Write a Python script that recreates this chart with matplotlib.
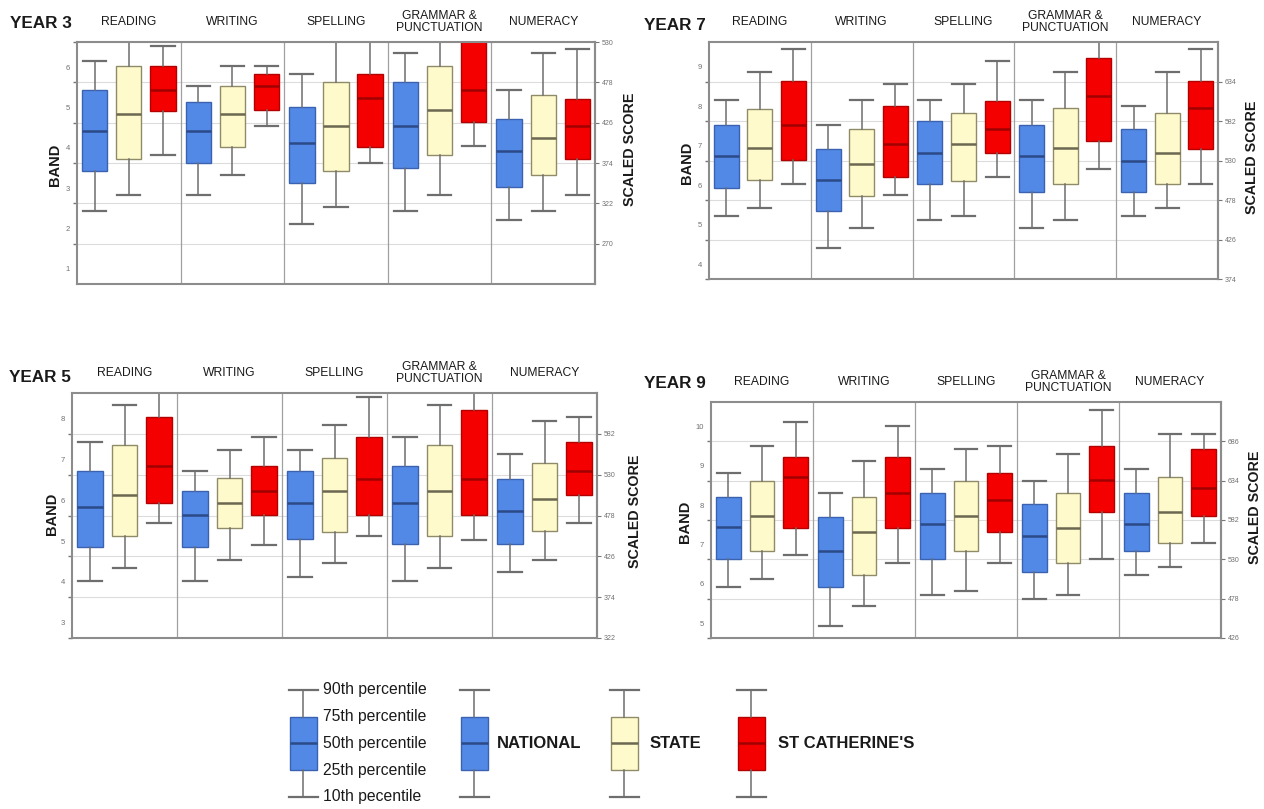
import matplotlib
matplotlib.use('Agg')
import matplotlib.pyplot as plt

W, H = 1264, 809

subjects = ['READING', 'WRITING', 'SPELLING', 'GRAMMAR &\nPUNCTUATION', 'NUMERACY']
groups = ['NATIONAL', 'STATE', "ST CATHERINE'S"]
legend_levels = ['10th pecentile', '25th percentile', '50th percentile',
                 '75th percentile', '90th percentile']

# rows: one per subject, values = 10th, 25th, 50th, 75th, 90th percentile (band)
y3_national = [[2.44, 3.43, 4.42, 5.43, 6.15],
               [2.83, 3.62, 4.42, 5.13, 5.53],
               [2.12, 3.13, 4.12, 5.01, 5.84],
               [2.44, 3.51, 4.53, 5.63, 6.36],
               [2.22, 3.02, 3.93, 4.71, 5.43]]
y3_state = [[2.83, 3.72, 4.84, 6.03, 6.90],
            [3.33, 4.03, 4.84, 5.53, 6.03],
            [2.54, 3.43, 4.53, 5.63, 6.90],
            [2.83, 3.83, 4.95, 6.03, 6.90],
            [2.44, 3.33, 4.24, 5.32, 6.36]]
y3_school = [[3.83, 4.92, 5.43, 6.03, 6.52],
             [4.53, 4.95, 5.54, 5.82, 6.03],
             [3.62, 4.03, 5.24, 5.82, 6.90],
             [4.05, 4.63, 5.43, 6.75, 7.00],
             [2.83, 3.72, 4.53, 5.22, 6.44]]

y5_national = [[4.02, 4.85, 5.83, 6.72, 7.43],
               [4.02, 4.85, 5.64, 6.22, 6.72],
               [4.13, 5.05, 5.94, 6.72, 7.24],
               [4.02, 4.93, 5.94, 6.83, 7.54],
               [4.23, 4.93, 5.73, 6.51, 7.12]]
y5_state = [[4.33, 5.13, 6.13, 7.34, 8.34],
            [4.54, 5.32, 5.94, 6.55, 7.24],
            [4.46, 5.23, 6.23, 7.04, 7.83],
            [4.33, 5.13, 6.23, 7.34, 8.34],
            [4.54, 5.24, 6.04, 6.92, 7.93]]
y5_school = [[5.44, 5.94, 6.83, 8.03, 8.80],
             [4.91, 5.63, 6.23, 6.83, 7.54],
             [5.13, 5.63, 6.53, 7.54, 8.53],
             [5.03, 5.63, 6.53, 8.21, 8.80],
             [5.44, 6.12, 6.71, 7.42, 8.03]]

y7_national = [[5.23, 5.93, 6.74, 7.53, 8.16],
               [4.40, 5.34, 6.13, 6.91, 7.53],
               [5.13, 6.02, 6.81, 7.63, 8.16],
               [4.91, 5.83, 6.74, 7.53, 8.16],
               [5.23, 5.83, 6.62, 7.42, 8.01]]
y7_state = [[5.41, 6.14, 6.93, 7.93, 8.86],
            [4.91, 5.72, 6.53, 7.42, 8.16],
            [5.23, 6.10, 7.04, 7.83, 8.55],
            [5.13, 6.02, 6.93, 7.95, 8.86],
            [5.41, 6.04, 6.81, 7.83, 8.86]]
y7_school = [[6.02, 6.64, 7.53, 8.63, 9.45],
             [5.75, 6.21, 7.04, 8.01, 8.55],
             [6.21, 6.81, 7.42, 8.12, 9.14],
             [6.42, 7.13, 8.25, 9.23, 9.80],
             [6.02, 6.91, 7.95, 8.63, 9.45]]

y9_national = [[5.93, 6.63, 7.44, 8.22, 8.81],
               [4.94, 5.93, 6.84, 7.71, 8.32],
               [5.72, 6.63, 7.52, 8.32, 8.92],
               [5.62, 6.31, 7.22, 8.03, 8.62],
               [6.23, 6.84, 7.52, 8.32, 8.92]]
y9_state = [[6.13, 6.84, 7.73, 8.62, 9.51],
            [5.43, 6.23, 7.33, 8.22, 9.12],
            [5.82, 6.84, 7.73, 8.62, 9.42],
            [5.72, 6.53, 7.43, 8.32, 9.31],
            [6.42, 7.03, 7.82, 8.72, 9.82]]
y9_school = [[6.74, 7.43, 8.72, 9.23, 10.12],
             [6.53, 7.43, 8.32, 9.23, 10.01],
             [6.53, 7.33, 8.13, 8.81, 9.51],
             [6.63, 7.82, 8.64, 9.51, 10.43],
             [7.03, 7.73, 8.43, 9.42, 9.82]]

y3_bands = [1, 2, 3, 4, 5, 6]
y5_bands = [3, 4, 5, 6, 7, 8]
y7_bands = [4, 5, 6, 7, 8, 9]
y9_bands = [5, 6, 7, 8, 9, 10]
y3_scores = [270, 322, 374, 426, 478, 530]
y5_scores = [322, 374, 426, 478, 530, 582]
y7_scores = [374, 426, 478, 530, 582, 634]
y9_scores = [426, 478, 530, 582, 634, 686]

# NAPLAN scaled score <-> band
def band_to_score(b):
    return 185.5 + 52.0 * b

def score_to_band(s):
    return (s - 185.5) / 52.0

# name, data, bands, scores, y range (band), axes box (px: left, top, right, bottom),
# year label pos, BAND label pos, SCALED SCORE label pos
panels = [
    ('YEAR 3', (y3_national, y3_state, y3_school), y3_bands, y3_scores, (0.625, 6.625),
     (77, 42, 595, 284), (10, 23), (55, 165), (630, 149)),
    ('YEAR 7', (y7_national, y7_state, y7_school), y7_bands, y7_scores, (3.625, 9.625),
     (709, 42, 1218, 279), (644, 25), (687, 163), (1252, 157)),
    ('YEAR 5', (y5_national, y5_state, y5_school), y5_bands, y5_scores, (2.625, 8.625),
     (72, 393, 597, 638), (9, 378), (52, 514), (635, 511)),
    ('YEAR 9', (y9_national, y9_state, y9_school), y9_bands, y9_scores, (4.625, 10.625),
     (711, 402, 1221, 638), (644, 383), (685, 522), (1255, 507)),
]

fills = ['#5289E6', '#FFFACB', '#F50000']
edges = ['#3A62B0', '#8F8A68', '#B30000']
medians = ['#2C4A88', '#6B6750', '#A00000']
whisker_col = '#6E6E6E'
offsets = [0.17, 0.5, 0.83]
box_w = 0.245

plt.rcParams['font.family'] = ['Liberation Sans', 'DejaVu Sans']

fig = plt.figure(figsize=(W / 100, H / 100), dpi=100)


def px(x, y):
    return x / W, 1 - y / H


def draw_boxes(ax, rows, positions, k, width, capw):
    stats = [dict(whislo=r[0], q1=r[1], med=r[2], q3=r[3], whishi=r[4]) for r in rows]
    ax.bxp(stats, positions=positions, widths=width, capwidths=capw,
           patch_artist=True, showfliers=False, manage_ticks=False,
           boxprops=dict(facecolor=fills[k], edgecolor=edges[k], linewidth=1.0),
           medianprops=dict(color=medians[k], linewidth=1.8),
           whiskerprops=dict(color=whisker_col, linewidth=1.1),
           capprops=dict(color=whisker_col, linewidth=1.6))


for name, data, bands, scores, yr, box, ypos, bpos, spos in panels:
    l, t, r, b = box
    ax = fig.add_axes([l / W, 1 - b / H, (r - l) / W, (b - t) / H])
    ax.set_xlim(0, 5)
    ax.set_ylim(*yr)
    for s in scores:
        ax.axhline(score_to_band(s), color='#DCDCDC', linewidth=0.8, zorder=0)
    for i in range(1, 5):
        ax.axvline(i, color='#A0A0A0', linewidth=0.9, zorder=0.5)
    for k, rows in enumerate(data):
        draw_boxes(ax, rows, [i + offsets[k] for i in range(5)], k, box_w, box_w * 0.92)

    for sp in ax.spines.values():
        sp.set_color('#8C8C8C')
        sp.set_linewidth(1.5)
    ax.set_xticks([])
    ax.set_yticks(bands)
    ax.set_yticklabels([str(v) for v in bands])
    ax.set_yticks([score_to_band(s) for s in scores], minor=True)
    ax.tick_params(axis='y', which='major', length=0, labelsize=5.5,
                   labelcolor='#707070', pad=5)
    ax.tick_params(axis='y', which='minor', length=3, width=1.0, color='#777777')

    sec = ax.secondary_yaxis('right', functions=(band_to_score, score_to_band))
    sec.set_yticks(scores)
    sec.set_yticklabels([str(s) for s in scores])
    sec.tick_params(axis='y', length=3, width=0.8, color='#777777',
                    labelsize=5, labelcolor='#707070', pad=2)
    sec.spines['right'].set_color('#8C8C8C')
    sec.spines['right'].set_linewidth(1.5)

    for i, subj in enumerate(subjects):
        ax.annotate(subj, xy=(i + 0.5, 1), xycoords=('data', 'axes fraction'),
                    xytext=(0, 14.5), textcoords='offset points',
                    ha='center', va='center', fontsize=8.7, linespacing=0.95,
                    color='#1A1A1A')

    fig.text(*px(*ypos), name, ha='left', va='center', fontsize=12.3,
             fontweight='bold', color='#1A1A1A')
    fig.text(*px(*bpos), 'BAND', ha='center', va='center', rotation=90,
             fontsize=10.5, fontweight='bold', color='#1A1A1A')
    fig.text(*px(*spos), 'SCALED SCORE', ha='center', va='center', rotation=90,
             fontsize=10.3, fontweight='bold', color='#1A1A1A')

# legend strip along the bottom
lax = fig.add_axes([0, 0, 1, 130 / H])
lax.set_xlim(0, W)
lax.set_ylim(-0.45, 4.41)
lax.axis('off')
key_x = [303, 474, 624, 751]
for k, x in enumerate(key_x):
    c = 0 if k == 0 else k - 1
    lax.bxp([dict(whislo=0, q1=1, med=2, q3=3, whishi=4)], positions=[x],
            widths=27, capwidths=29, patch_artist=True, showfliers=False,
            manage_ticks=False,
            boxprops=dict(facecolor=fills[c], edgecolor=edges[c], linewidth=1.0),
            medianprops=dict(color=medians[c], linewidth=1.8),
            whiskerprops=dict(color=whisker_col, linewidth=1.1),
            capprops=dict(color=whisker_col, linewidth=1.6))
for lvl, txt in enumerate(legend_levels):
    lax.text(323, lvl, txt, ha='left', va='center', fontsize=11.3, color='#1A1A1A')
for x, g in zip([497, 650, 778], groups):
    lax.text(x, 2, g, ha='left', va='center', fontsize=12, fontweight='bold',
             color='#1A1A1A')

fig.savefig('out.png', dpi=100, facecolor='white')
